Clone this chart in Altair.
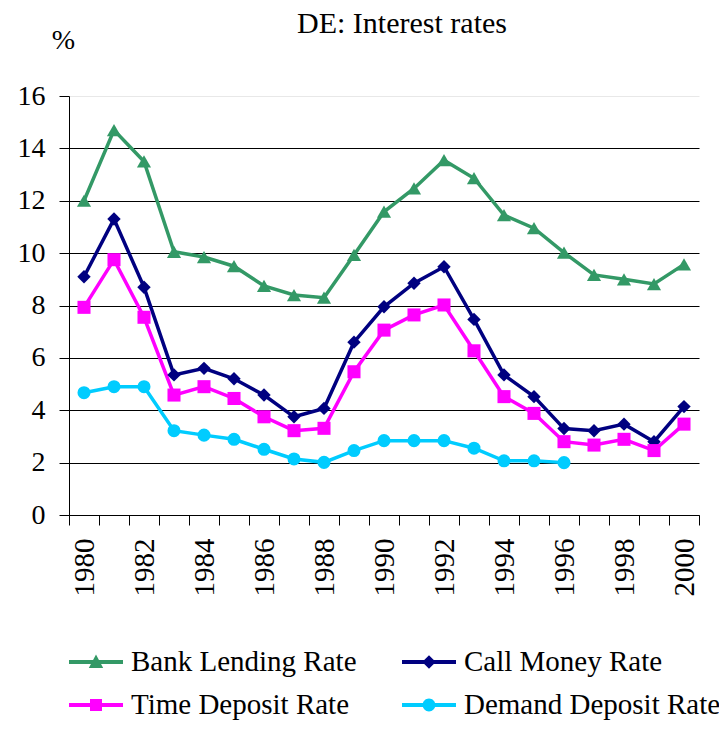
import altair as alt
import pandas as pd

years = list(range(1980, 2001))
series_names = ["Bank Lending Rate", "Call Money Rate", "Time Deposit Rate", "Demand Deposit Rate"]
bank = [12.0, 14.7, 13.5, 10.05, 9.85, 9.5, 8.75, 8.4, 8.3, 9.93, 11.58, 12.47, 13.55, 12.86, 11.45, 10.95, 10.02, 9.17, 9.0, 8.82, 9.57]
call = [9.1, 11.3, 8.7, 5.35, 5.6, 5.2, 4.58, 3.75, 4.07, 6.6, 7.95, 8.85, 9.48, 7.47, 5.35, 4.52, 3.3, 3.22, 3.47, 2.8, 4.14]
time_dep = [7.93, 9.75, 7.55, 4.58, 4.9, 4.45, 3.75, 3.22, 3.31, 5.47, 7.06, 7.64, 8.02, 6.27, 4.52, 3.88, 2.8, 2.67, 2.89, 2.46, 3.47]
demand = [4.67, 4.9, 4.9, 3.22, 3.05, 2.89, 2.51, 2.14, 2.01, 2.46, 2.84, 2.84, 2.84, 2.55, 2.07, 2.07, 2.0, None, None, None, None]
y_ticks = [0, 2, 4, 6, 8, 10, 12, 14, 16]
colors = ["#339966", "#000080", "#FF00FF", "#00CCFF"]
shapes = ["triangle-up", "diamond", "square", "circle"]
marker_sizes = [200, 180, 170, 170]

rows = []
for name, vals in zip(series_names, [bank, call, time_dep, demand]):
    for yr, v in zip(years, vals):
        if v is not None:
            rows.append({"year": yr, "value": v, "series": name})
df = pd.DataFrame(rows)

FONT = "Liberation Serif"

# legend symbols: line segment with marker (custom paths)
bar = "M-1.35,-0.1H1.35V0.1H-1.35Z"
legend_paths = [
    bar + "M0,-0.38L0.36,0.3L-0.36,0.3Z",
    bar + "M0,-0.34L0.34,0L0,0.34L-0.34,0Z",
    bar + "M-0.3,-0.3H0.3V0.3H-0.3Z",
    bar + "M0.32,0A0.32,0.32,0,1,1,-0.32,0A0.32,0.32,0,1,1,0.32,0Z",
]

color_scale = alt.Scale(domain=series_names, range=colors)

x_enc = alt.X(
    "year:O",
    bandPosition=0.5,
    scale=alt.Scale(type="band", paddingInner=0, paddingOuter=0),
    axis=alt.Axis(
        title=None,
        tickBand="extent",
        labelAngle=-90,
        labelExpr="datum.value % 2 == 0 ? datum.label : ''",
        labelFontSize=29,
        labelPadding=13,
        tickSize=10,
        grid=False,
    ),
)
y_enc = alt.Y(
    "value:Q",
    scale=alt.Scale(domain=[0, 16], nice=False, zero=True),
    axis=alt.Axis(
        values=y_ticks,
        title="%",
        titleAngle=0,
        titleX=-6,
        titleY=-48,
        titleAlign="center",
        titleBaseline="alphabetic",
        titleFontSize=28,
        titleFontWeight="normal",
        labelFontSize=28,
        labelPadding=14,
        tickSize=10,
        grid=True,
        gridColor={"condition": {"test": "datum.value == 16", "value": "#e8e8e8"}, "value": "black"},
        gridWidth=1,
    ),
)

color_enc = alt.Color("series:N", scale=color_scale)

leg_props = dict(
    title=None,
    orient="none",
    direction="horizontal",
    legendX=7,
    legendY=546,
    columns=2,
    columnPadding=45,
    rowPadding=8,
    symbolSize=1600,
    symbolStrokeWidth=0,
    symbolOpacity=1,
    labelFontSize=29,
    labelOffset=15,
    labelLimit=600,
    padding=0,
)

# invisible layer whose only job is to carry the legend (line + marker symbols)
legend_layer = alt.Chart(df).mark_point(filled=True, opacity=0).encode(
    x=x_enc,
    y=y_enc,
    color=alt.Color("series:N", scale=color_scale, legend=alt.Legend(**leg_props)),
    shape=alt.Shape(
        "series:N",
        scale=alt.Scale(domain=series_names, range=legend_paths),
        legend=alt.Legend(**leg_props),
    ),
)

lines = alt.Chart(df).mark_line(strokeWidth=3.5).encode(
    x=x_enc, y=y_enc, color=color_enc, detail="series:N"
)

point_layers = []
for name, shp, sz in zip(series_names, shapes, marker_sizes):
    point_layers.append(
        alt.Chart(df)
        .transform_filter(alt.datum.series == name)
        .mark_point(filled=True, opacity=1, size=sz, shape=shp)
        .encode(x=x_enc, y=y_enc, color=color_enc)
    )

guide_style = {"font": FONT, "fill": "black"}

chart = (
    alt.layer(legend_layer, lines, *point_layers)
    .properties(
        width=630,
        height=419,
        title=alt.TitleParams(
            "DE: Interest rates",
            font=FONT,
            fontSize=30,
            fontWeight="normal",
            color="black",
            anchor="middle",
            dx=18,
            offset=-13,
        ),
        autosize=alt.AutoSizeParams(type="none"),
        padding={"left": 61, "top": 88, "right": 20, "bottom": 206},
    )
    .configure(font=FONT, style={"guide-label": guide_style, "guide-title": guide_style})
    .configure_axis(
        labelFont=FONT, titleFont=FONT, labelColor="black", titleColor="black",
        tickColor="black", domainColor="black",
    )
    .configure_legend(labelFont=FONT, labelColor="black")
    .configure_view(stroke=None)
)

chart.save("out.html", embed_options={"renderer": "svg", "actions": False})
